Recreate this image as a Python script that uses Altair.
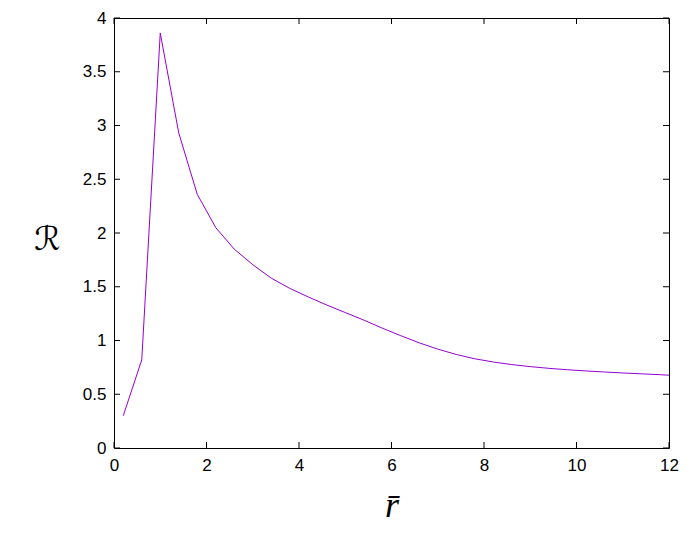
import altair as alt
import pandas as pd

r_bar = [0.2, 0.6, 1.0, 1.4, 1.8, 2.2, 2.6, 3.0, 3.4, 3.8, 4.2, 4.6, 5.0, 5.4, 5.8,
         6.2, 6.6, 7.0, 7.4, 7.8, 8.2, 8.6, 9.0, 9.4, 9.8, 10.2, 10.6, 11.0, 11.4, 11.8, 12.0]
R_vals = [0.30, 0.82, 3.86, 2.93, 2.36, 2.05, 1.85, 1.705, 1.58, 1.485, 1.405, 1.33, 1.26, 1.19, 1.115,
          1.045, 0.978, 0.92, 0.87, 0.83, 0.80, 0.776, 0.757, 0.741, 0.728, 0.717, 0.707, 0.698, 0.69, 0.682, 0.677]
x_ticks = [0, 2, 4, 6, 8, 10, 12]
y_ticks = [0, 0.5, 1, 1.5, 2, 2.5, 3, 3.5, 4]

W, H = 555, 430
TL = 6

df = pd.DataFrame({"r": r_bar, "R": R_vals})
xt = pd.DataFrame({"r": x_ticks})
yt = pd.DataFrame({"R": y_ticks})

xs = alt.Scale(domain=[0, 12], nice=False, zero=False)
ys = alt.Scale(domain=[0, 4], nice=False, zero=False)

x_axis = alt.Axis(
    values=x_ticks, format="~g", ticks=False, domain=False, grid=False,
    labelFlush=False, labelOverlap=False,
    labelPadding=9, labelFontSize=17, labelFont="Liberation Sans", labelColor="black",
    title="r̄", titleFont="Liberation Serif", titleFontStyle="italic", titleFontWeight="normal",
    titleFontSize=36, titleColor="black", titleY=57, titleBaseline="middle")
y_axis = alt.Axis(
    values=y_ticks, format="~g", ticks=False, domain=False, grid=False,
    labelFlush=False, labelOverlap=False,
    labelPadding=8, labelFontSize=17, labelFont="Liberation Sans", labelColor="black",
    title="ℛ", titleAngle=0, titleFont="DejaVu Sans", titleFontWeight="normal",
    titleFontSize=33, titleColor="black", titleX=-67, titleY=221,
    titleBaseline="middle", titleAlign="center")

line = alt.Chart(df).mark_line(color="#9400D3", strokeWidth=1, clip=True).encode(
    x=alt.X("r:Q", scale=xs, axis=x_axis),
    y=alt.Y("R:Q", scale=ys, axis=y_axis),
)

bottom = alt.Chart(xt).mark_rule(color="black", strokeWidth=1).encode(
    x=alt.X("r:Q", scale=xs, axis=x_axis), y=alt.value(H), y2=alt.value(H - TL))
top = alt.Chart(xt).mark_rule(color="black", strokeWidth=1).encode(
    x=alt.X("r:Q", scale=xs, axis=x_axis), y=alt.value(0), y2=alt.value(TL))
left = alt.Chart(yt).mark_rule(color="black", strokeWidth=1).encode(
    y=alt.Y("R:Q", scale=ys, axis=y_axis), x=alt.value(0), x2=alt.value(TL))
right = alt.Chart(yt).mark_rule(color="black", strokeWidth=1).encode(
    y=alt.Y("R:Q", scale=ys, axis=y_axis), x=alt.value(W), x2=alt.value(W - TL))

chart = alt.layer(line, bottom, top, left, right).properties(
    width=W, height=H,
    background="white",
    autosize=alt.AutoSizeParams(type="none"),
    padding={"left": 106, "top": 10, "right": 10, "bottom": 80},
).configure_view(stroke="black", strokeWidth=1)

chart.save("out.html", embed_options={"renderer": "svg", "actions": False})
